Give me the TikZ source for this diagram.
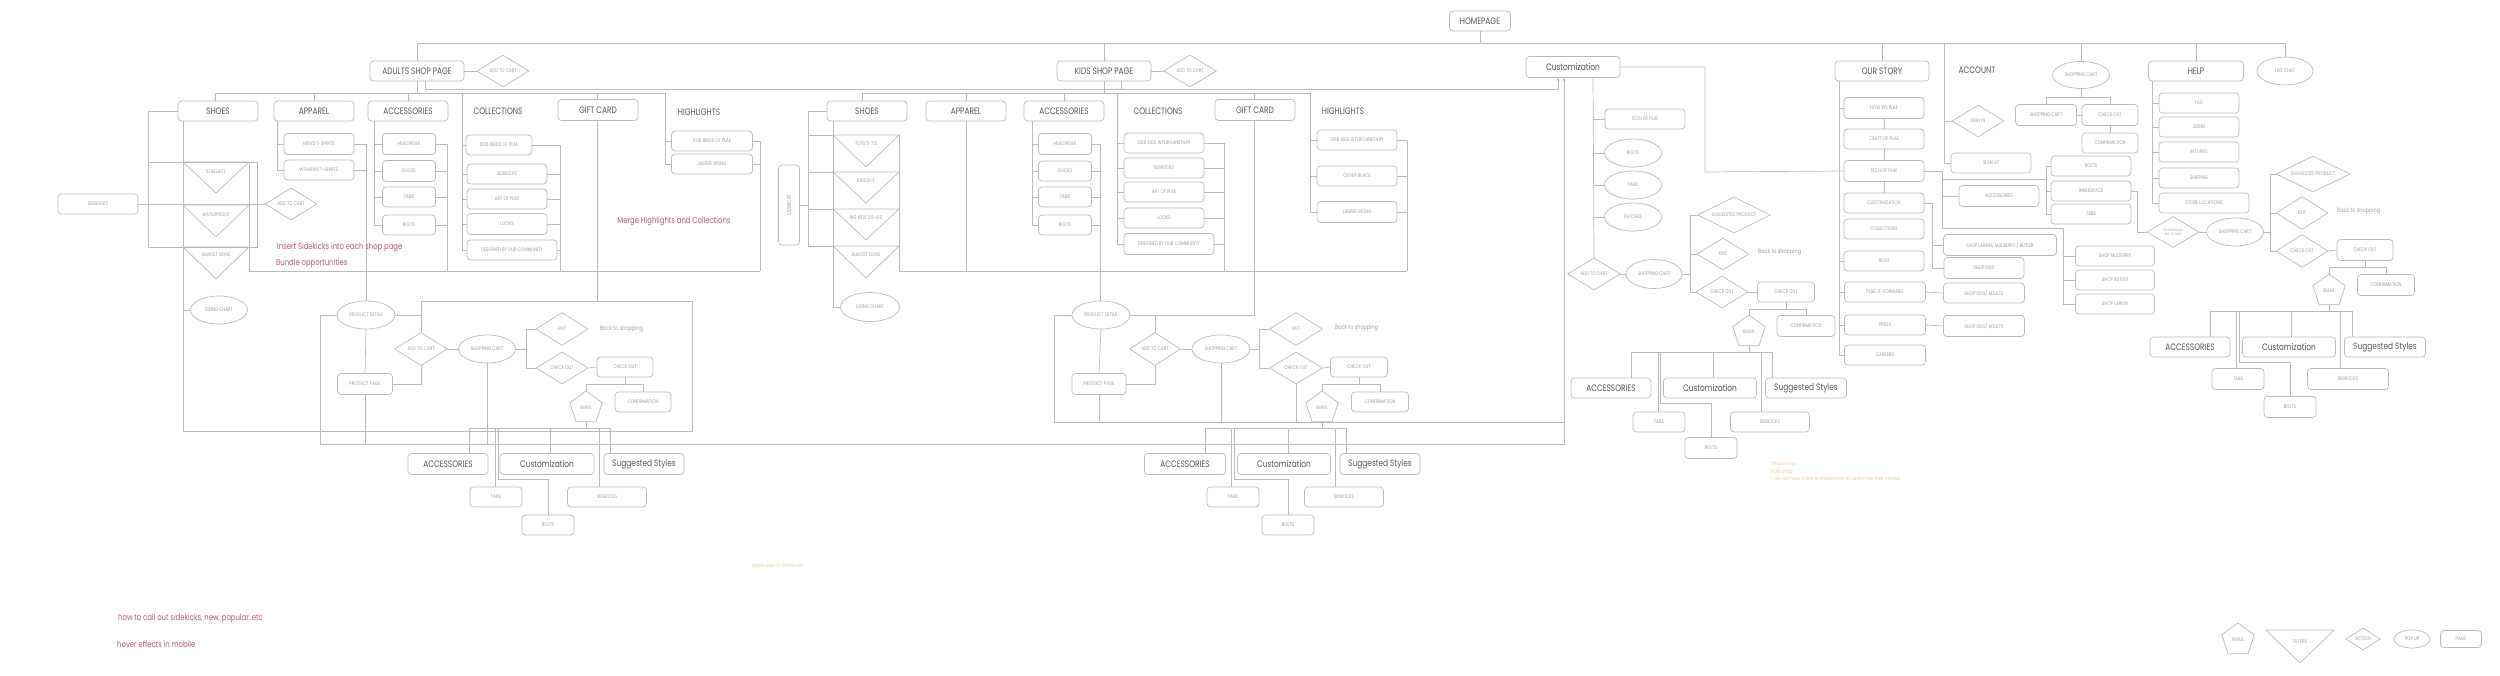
\documentclass[tikz,border=0pt]{standalone}
\usepackage{fontspec}
\setmainfont[FakeStretch=0.8]{Poppins}
\usetikzlibrary{shapes.geometric,arrows.meta}
\definecolor{lc}{HTML}{B9B9B9}
\definecolor{tc}{HTML}{9C9C9C}
\definecolor{dk}{HTML}{555555}
\definecolor{pk}{HTML}{B4587E}
\definecolor{yl}{HTML}{E3D39C}
\newcommand\fBig{\fontsize{9.3}{10}\selectfont}
\newcommand\fSm{\fontsize{5.2}{6}\selectfont}
\newcommand\fNote{\fontsize{8.6}{10}\selectfont}
\newcommand\fTiny{\fontsize{3.2}{3.8}\selectfont}
\newcommand\fYel{\fontsize{5.4}{6}\selectfont}
\newcommand\fBack{\fontsize{6.2}{7}\selectfont}
\begin{document}
\begin{tikzpicture}[x=1pt,y=-1pt,
  ln/.style={draw=lc,line width=0.7pt},
  arr/.style={-{Stealth[length=3pt,width=2.6pt]}},
  sz/.style 2 args={minimum width=#1pt,minimum height=#2pt},
  box/.style={draw=lc,line width=0.7pt,rounded corners=3.5pt,inner sep=0pt,font=\fSm,text=tc},
  big/.style={box,font=\fBig,text=dk},
  lbl/.style={inner sep=0pt,font=\fBig,text=dk},
  ell/.style={draw=lc,line width=0.7pt,ellipse,inner sep=0pt,font=\fSm,text=tc},
  dia/.style={draw=lc,line width=0.7pt,diamond,aspect=2,inner sep=0pt,font=\fSm,text=tc},
  pent/.style={draw=lc,line width=0.7pt,regular polygon,regular polygon sides=5,minimum size=34pt,inner sep=0pt,font=\fSm,text=tc},
  tl/.style={inner sep=0pt,font=\fSm,text=tc},
  bk/.style={inner sep=0pt,font=\fBack,text=tc,anchor=west},
  note/.style={inner sep=0pt,font=\fNote,text=pk,anchor=west},
  yel/.style={inner sep=0pt,font=\fYel,text=yl,anchor=west}]
\fill[white] (0,0) rectangle (2500,676);
\useasboundingbox (0,0) rectangle (2500,676);

% ---------------- top level ----------------
\node[big,sz={61}{20}] (home) at (1480,21) {HOMEPAGE};
\node[big,sz={94}{20}] (adult) at (417,71) {ADULTS SHOP PAGE};
\node[dia,sz={52}{32}] (aAdd) at (503,71) {ADD TO CART};
\node[big,sz={94}{20}] (kids) at (1104,71) {KIDS SHOP PAGE};
\node[dia,sz={53}{32}] (kAdd) at (1190,71) {ADD TO CART};
\node[big,sz={94}{21}] (cust) at (1573,67) {Customization};
\node[big,sz={94}{20}] (story) at (1882,71) {OUR STORY};
\node[lbl] (account) at (1977,70) {ACCOUNT};
\node[ell,sz={57}{27}] (topCart) at (2081,75) {SHOPPING CART};
\node[big,sz={95}{20}] (help) at (2196,71) {HELP};
\node[ell,sz={56}{28}] (chat) at (2285,71) {LIVE CHAT};

\coordinate (T) at (0,43);
\draw[ln] (adult.north) -- (adult.north |- T) -- (chat.north |- T) -- (chat.north);
\draw[ln] (home.south) -- (home.south |- T);
\draw[ln] (kids.north) -- (kids.north |- T);
\draw[ln] (story.north) -- (story.north |- T);
\draw[ln] (topCart.north) -- (topCart.north |- T);
\draw[ln] (help.north) -- (help.north |- T);
\draw[ln] (adult.east) -- (aAdd.west);
\draw[ln] (kids.east) -- (kAdd.west);
\draw[ln,arr] ([xshift=8pt]adult.south) |- (1558,89) -- (cust.south -| 1558,0);
\draw[ln] ([xshift=17pt]kids.south) -- ++(0,8);

% ---------------- adults shop ----------------
\node[big,sz={80}{20}] (aShoes) at (218,111) {SHOES};
\node[big,sz={80}{20}] (aApp) at (314,111) {APPAREL};
\node[big,sz={80}{20}] (aAcc) at (408,111) {ACCESSORIES};
\node[lbl] (aColl) at (498,111) {COLLECTIONS};
\node[big,sz={80}{21}] (aGift) at (598,110) {GIFT CARD};
\node[lbl] (aHigh) at (699,112) {HIGHLIGHTS};

\node[box,sz={70}{21}] (aMen) at (319,144) {MEN'S T-SHIRTS};
\node[box,sz={70}{20}] (aWomen) at (319,170) {WOMEN'S T-SHIRTS};
\node[box,sz={53}{21}] (aHead) at (409,144) {HEADWEAR};
\node[box,sz={53}{21}] (aSocks) at (409,171) {SOCKS};
\node[box,sz={53}{20}] (aTabs) at (409,197) {TABS};
\node[box,sz={53}{20}] (aBolts) at (409,225) {BOLTS};
\node[box,sz={66}{20}] (aC1) at (499,145) {SS18 BIRDS OF PLAE};
\node[box,sz={80}{20}] (aC2) at (507,174) {SIDEKICKS};
\node[box,sz={80}{20}] (aC3) at (507,199) {ART OF PLAE};
\node[box,sz={80}{21}] (aC4) at (507,224) {LOOKS};
\node[box,sz={90}{20}] (aC5) at (512,250) {DESIGNED BY OUR COMMUNITY};
\node[box,sz={81}{20}] (aH1) at (712,141) {SS18 BIRDS OF PLAE};
\node[box,sz={81}{20}] (aH2) at (712,164) {JASPER WONG};

\draw[ln] (adult.south) -- ++(0,12);
\draw[ln] (aShoes.north -| 215,0) -- (215,93) -- (665,93) |- (aH2.west);
\draw[ln] (aH1.west) -- (aH1.west -| 665,0);
\draw[ln] (aApp.north) -- (aApp.north |- 0,93);
\draw[ln] (aAcc.north) -- (aAcc.north |- 0,93);
\draw[ln] (aGift.north -| 597,0) -- (597,93);
\draw[ln] (aGift.south -| 597,0) -- (597,301);
% apparel
\draw[ln] (aApp.south -| 277,0) |- (aWomen.west);
\draw[ln] (aMen.west) -- (aMen.west -| 277,0);
\draw[ln] (aMen.east) -| (366,301);
\draw[ln] (aWomen.east) -- (aWomen.east -| 366,0);
% accessories
\draw[ln] (aAcc.south -| 374,0) |- (aBolts.west);
\foreach \n in {aHead,aSocks,aTabs} \draw[ln] (\n.west) -- (\n.west -| 374,0);
\draw[ln] (aHead.east) -| (447,271);
\foreach \n in {aSocks,aTabs,aBolts} \draw[ln] (\n.east) -- (\n.east -| 447,0);
% collections
\draw[ln] (462,93) |- (aC5.west);
\foreach \n in {aC1,aC2,aC3,aC4} \draw[ln] (\n.west) -- (\n.west -| 462,0);
\draw[ln] (aC1.east) -| (560,271);
\foreach \n in {aC2,aC3,aC4,aC5} \draw[ln] (\n.east) -- (\n.east -| 560,0);
% highlights
\draw[ln] (aH1.east) -| (760,271);
\draw[ln] (aH2.east) -- (aH2.east -| 760,0);
\draw[ln] (249,271) -- (760,271);
% shoes
\draw[ln] (aShoes.west) -| (148,247) -- (257,247) -- (257,162) -- (148,162);
\draw[ln] (aShoes.south -| 183,0) -- (183,431) -- (692,431) -- (692,301) -- (421,301) -- (421,332);
\draw[ln] (249,162) -- (249,271);
\draw[ln] (183,162) -- (249,162) -- (216,193) -- cycle;
\draw[ln] (183,205) -- (249,205) -- (216,237) -- cycle;
\draw[ln] (183,247) -- (249,247) -- (216,279) -- cycle;
\node[tl] (tA1) at (216,172) {STAELACE};
\node[tl] (tA2) at (216,215) {WATERPROOF};
\node[tl] (tA3) at (216,255) {ALMOST GONE};
\node[box,sz={80}{20}] (sidekicks) at (98,204) {SIDEKICKS};
\node[dia,sz={52}{32}] (aAddS) at (291,204) {ADD TO CART};
\draw[ln] (sidekicks.east) -- (aAddS.west);
\node[ell,sz={57}{28}] (aSizing) at (219,310) {SIZING CHART};
\draw[ln] (aSizing.west -| 183,0) -- (aSizing.west);

% adult purchase flow
\node[ell,sz={58}{28}] (aPD) at (366,315) {PRODUCT DETAIL};
\node[dia,sz={53}{33}] (aAddC) at (421,349) {ADD TO CART};
\node[box,sz={55}{21}] (aPP) at (365,384) {PRODUCT PAGE};
\node[ell,sz={57}{28}] (aCart) at (487,349) {SHOPPING CART};
\node[dia,sz={52}{33}] (aExit) at (562,329) {EXIT};
\node[bk] (aBack) at (600,329) {Back to shopping};
\node[dia,sz={52}{32}] (aChkD) at (562,368) {CHECK OUT};
\node[box,sz={56}{20}] (aChk) at (625,367) {CHECK OUT};
\node[box,sz={56}{20}] (aConf) at (643,402) {CONFIRMATION};
\node[pent] (aEmail) at (586,408) {EMAIL};
\draw[ln] (aPD.east) -- (aPD.east -| 421,0);
\draw[ln,arr] (aPD.west) -| (320,444) -- (1564,444) -- (cust.south -| 1564,0);
\draw[ln] (aPD.south) -- (aPP.north);
\draw[ln] (aAddC.south) |- (aPP.east);
\draw[ln] (aPP.south) -- (aPP.south |- 0,444);
\draw[ln] (aAddC.east) -- (aCart.west);
\draw[ln] (aCart.south) -- (aCart.south |- 0,444);
\draw[ln] (aCart.east) -- (526,349);
\draw[ln] (aExit.west) -| (526,368) -- (aChkD.west);
\draw[ln] (aChkD.east) -- (aChk.west);
\draw[ln] (aChk.south) -- (aChk.south |- 0,384);
\draw[ln] (aEmail.north) |- (aConf.north |- 0,384) -- (aConf.north);
\draw[ln] (aEmail.south) -- (aEmail.south |- 0,428);
\node[big,sz={80}{21}] (aB1) at (448,464) {ACCESSORIES};
\node[big,sz={94}{21}] (aB2) at (547,464) {Customization};
\node[big,sz={80}{21}] (aB3) at (644,464) {Suggested Styles};
\node[box,sz={52}{20}] (aB4) at (496,497) {TABS};
\node[box,sz={79}{20}] (aB5) at (607,497) {SIDEKICKS};
\node[box,sz={52}{20}] (aB6) at (548,525) {BOLTS};
\draw[ln] (469,428) -- (610,428);
\draw[ln] (469,428) -- (aB1.north -| 469,0);
\draw[ln] (550,428) -- (aB2.north -| 550,0);
\draw[ln] (610,428) -- (aB3.north -| 610,0);
\draw[ln] (495,428) -- (aB4.north -| 495,0);
\draw[ln] (498,428) -- (498,479) -| (aB6.north);
\draw[ln] (599,428) -- (aB5.north -| 599,0);

% ---------------- kids shop ----------------
\node[big,sz={80}{20}] (kShoes) at (867,111) {SHOES};
\node[big,sz={80}{20}] (kApp) at (966,111) {APPAREL};
\node[big,sz={80}{20}] (kAcc) at (1064,111) {ACCESSORIES};
\node[lbl] (kColl) at (1158,111) {COLLECTIONS};
\node[big,sz={80}{21}] (kGift) at (1255,110) {GIFT CARD};
\node[lbl] (kHigh) at (1343,111) {HIGHLIGHTS};
\node[box,sz={53}{21}] (kHead) at (1065,144) {HEADWEAR};
\node[box,sz={53}{20}] (kSocks) at (1065,171) {SOCKS};
\node[box,sz={53}{20}] (kTabs) at (1065,197) {TABS};
\node[box,sz={53}{20}] (kBolts) at (1065,225) {BOLTS};
\node[box,sz={80}{20}] (kC1) at (1164,143) {SS18 KIDS INTERPLANETARY};
\node[box,sz={80}{20}] (kC2) at (1164,168) {SIDEKICKS};
\node[box,sz={80}{20}] (kC3) at (1164,192) {ART OF PLAE};
\node[box,sz={80}{20}] (kC4) at (1164,218) {LOOKS};
\node[box,sz={90}{21}] (kC5) at (1169,244) {DESIGNED BY OUR COMMUNITY};
\node[box,sz={80}{20}] (kH1) at (1357,140) {SS18 KIDS INTERPLANETARY};
\node[box,sz={80}{20}] (kH2) at (1357,176) {OLIVER BLACK};
\node[box,sz={80}{21}] (kH3) at (1357,212) {JASPER WONG};

\draw[ln] (kids.south) -- ++(0,12);
\draw[ln] (kShoes.north -| 862,0) -- (862,93) -- (1310,93) |- (kH3.west);
\foreach \n in {kH1,kH2} \draw[ln] (\n.west) -- (\n.west -| 1310,0);
\draw[ln] (kApp.north) -- (kApp.north |- 0,93);
\draw[ln] (kApp.south) -- (kApp.south |- 0,271);
\draw[ln] (kAcc.north) -- (kAcc.north |- 0,93);
\draw[ln] (kGift.north -| 1254,0) -- (1254,93);
% accessories
\draw[ln] (kAcc.south -| 1032,0) |- (kBolts.west);
\foreach \n in {kHead,kSocks,kTabs} \draw[ln] (\n.west) -- (\n.west -| 1032,0);
\draw[ln] (kHead.east) -| (1100,301);
\foreach \n in {kSocks,kTabs,kBolts} \draw[ln] (\n.east) -- (\n.east -| 1100,0);
% collections
\draw[ln] (1117,93) |- (kC5.west);
\foreach \n in {kC1,kC2,kC3,kC4} \draw[ln] (\n.west) -- (\n.west -| 1117,0);
\draw[ln] (kC1.east) -| (1224,271);
\foreach \n in {kC2,kC3,kC4,kC5} \draw[ln] (\n.east) -- (\n.east -| 1224,0);
% highlights
\draw[ln] (kH1.east) -| (1407,271);
\foreach \n in {kH2,kH3} \draw[ln] (\n.east) -- (\n.east -| 1407,0);
\draw[ln] (899,271) -- (1407,271);
% shoes
\node[box,sz={21}{80}] (kSide) at (789,205) {\rotatebox{90}{SIDEKICKS}};
\draw[ln] (kShoes.west) -| (808,246) -- (833,246);
\foreach \y in {135,172,209} \draw[ln] (808,\y) -- (833,\y);
\draw[ln] (kSide.east) -- (kSide.east -| 808,0);
\draw[ln] (833,135) -- (899,135) -- (866,167) -- cycle;
\draw[ln] (833,172) -- (899,172) -- (866,203) -- cycle;
\draw[ln] (833,209) -- (899,209) -- (866,240) -- cycle;
\draw[ln] (833,246) -- (899,246) -- (866,278) -- cycle;
\node[tl] (tK1) at (866,144) {TOTS 5-7.5};
\node[tl] (tK2) at (866,181) {KIDS 8-3};
\node[tl] (tK3) at (866,218) {BIG KIDS 3.5-4.5};
\node[tl] (tK4) at (866,255) {ALMOST GONE};
\draw[ln] (899,135) -- (899,271);
\node[ell,sz={59}{29}] (kSizing) at (870,307) {SIZING CHART};
\draw[ln] (kShoes.south -| 833,0) |- (kSizing.west);

% kids purchase flow
\node[ell,sz={58}{28}] (kPD) at (1101,315) {PRODUCT DETAIL};
\node[box,sz={54}{21}] (kPP) at (1099,384) {PRODUCT PAGE};
\node[dia,sz={51}{33}] (kAddC) at (1155,349) {ADD TO CART};
\node[ell,sz={58}{28}] (kCart) at (1221,349) {SHOPPING CART};
\node[dia,sz={53}{33}] (kExit) at (1296,329) {EXIT};
\node[bk] (kBack) at (1335,328) {Back to shopping};
\node[dia,sz={53}{32}] (kChkD) at (1296,368) {CHECK OUT};
\node[box,sz={57}{20}] (kChk) at (1359,367) {CHECK OUT};
\node[box,sz={57}{20}] (kConf) at (1380,402) {CONFIRMATION};
\node[pent] (kEmail) at (1322,408) {EMAIL};
\draw[ln] (kGift.south -| 1254,0) |- (kPD.east);
\draw[ln] (kAddC.north) -- (kAddC.north |- kPD.east);
\draw[ln] (kPD.west) -| (1054,422) -- (1564,422);
\draw[ln] (kPD.south) -- (kPP.north);
\draw[ln] (kPP.south) -- (kPP.south |- 0,422);
\draw[ln] (kAddC.south) |- (kPP.east);
\draw[ln] (kAddC.east) -- (kCart.west);
\draw[ln] (kCart.south) -- (kCart.south |- 0,422);
\draw[ln] (kCart.east) -- (1259,349);
\draw[ln] (kExit.west) -| (1259,368) -- (kChkD.west);
\draw[ln] (kChkD.south) -- (kChkD.south |- 0,422);
\draw[ln] (kChkD.east) -- (kChk.west);
\draw[ln] (kChk.south) -- (kChk.south |- 0,384);
\draw[ln] (kEmail.north) |- (kConf.north |- 0,384) -- (kConf.north);
\draw[ln] (kEmail.south) -- (kEmail.south |- 0,428);
\node[big,sz={81}{21}] (kB1) at (1185,464) {ACCESSORIES};
\node[big,sz={93}{21}] (kB2) at (1284,464) {Customization};
\node[big,sz={80}{21}] (kB3) at (1380,464) {Suggested Styles};
\node[box,sz={52}{20}] (kB4) at (1233,497) {TABS};
\node[box,sz={79}{20}] (kB5) at (1344,497) {SIDEKICKS};
\node[box,sz={52}{20}] (kB6) at (1288,525) {BOLTS};
\draw[ln] (1205,428) -- (1346,428);
\draw[ln] (1205,428) -- (kB1.north -| 1205,0);
\draw[ln] (1288,428) -- (kB2.north -| 1288,0);
\draw[ln] (1346,428) -- (kB3.north -| 1346,0);
\draw[ln] (1231,428) -- (kB4.north -| 1231,0);
\draw[ln] (1234,428) -- (1234,479) -| (kB6.north);
\draw[ln] (1335,428) -- (kB5.north -| 1335,0);

% ---------------- customization ----------------
\node[box,sz={80}{20}] (cTech) at (1645,119) {TECH OF PLAE};
\node[ell,sz={57}{28}] (cBolts) at (1633,153) {BOLTS};
\node[ell,sz={57}{28}] (cTabs) at (1633,185) {TABS};
\node[ell,sz={57}{28}] (cPatch) at (1633,217) {PATCHES};
\node[dia,sz={53}{32}] (cAdd) at (1594,274) {ADD TO CART};
\node[ell,sz={56}{29}] (cCart) at (1654,274) {SHOPPING CART};
\node[dia,sz={73}{36}] (cSug) at (1734,215) {SUGGESTED PRODUCT};
\node[dia,sz={52}{32}] (cExit) at (1723,254) {EXIT};
\node[bk] (cBack) at (1758,252) {Back to shopping};
\node[dia,sz={52}{32}] (cChkD) at (1722,292) {CHECK OUT};
\node[box,sz={57}{20}] (cChk) at (1786,292) {CHECK OUT};
\node[pent] (cEmail) at (1749,332) {EMAIL};
\node[box,sz={58}{21}] (cConf) at (1806,326) {CONFIRMATION};
\draw[ln] (cust.south -| 1593,0) -- (cAdd.north);
\foreach \n in {cTech,cBolts,cTabs,cPatch} \draw[ln] (\n.west -| 1593,0) -- (\n.west);
\draw[ln] (cAdd.east) -- (cCart.west);
\draw[ln] (cCart.east) -- (1690,274);
\draw[ln] (cSug.west) -| (1690,292) -- (cChkD.west);
\draw[ln] (cExit.west) -- (cExit.west -| 1690,0);
\draw[ln] (cChkD.east) -- (cChk.west);
\draw[ln] (cChk.south) -- (cChk.south |- 0,309);
\draw[ln] (cEmail.north) |- (cConf.north |- 0,309) -- (cConf.north);
\draw[ln] (cEmail.south) -- (cEmail.south |- 0,352);
\node[big,sz={80}{20}] (cB1) at (1611,388) {ACCESSORIES};
\node[big,sz={93}{20}] (cB2) at (1710,388) {Customization};
\node[big,sz={81}{20}] (cB3) at (1806,388) {Suggested Styles};
\node[box,sz={52}{20}] (cB4) at (1659,422) {TABS};
\node[box,sz={79}{20}] (cB5) at (1770,422) {SIDEKICKS};
\node[box,sz={52}{21}] (cB6) at (1711,448) {BOLTS};
\draw[ln] (1631,352) -- (1772,352);
\draw[ln] (1631,352) -- (cB1.north -| 1631,0);
\draw[ln] (1713,352) -- (cB2.north -| 1713,0);
\draw[ln] (1772,352) -- (cB3.north -| 1772,0);
\draw[ln] (1658,352) -- (cB4.north -| 1658,0);
\draw[ln] (1660,352) -- (1660,403) -| (cB6.north);
\draw[ln] (1761,352) -- (cB5.north -| 1761,0);

% ---------------- our story ----------------
\node[box,sz={80}{21}] (sHow) at (1884,108) {HOW WE PLAE};
\node[box,sz={80}{20}] (sCraft) at (1884,139) {CRAFT OF PLAE};
\node[box,sz={80}{21}] (sTech) at (1884,171) {TECH OF PLAE};
\node[box,sz={80}{20}] (sCust) at (1884,203) {CUSTOMIZATION};
\node[box,sz={80}{20}] (sColl) at (1884,229) {COLLECTIONS};
\node[box,sz={80}{20}] (sBlog) at (1884,261) {BLOG};
\node[box,sz={81}{20}] (sPlae) at (1885,292) {PLAE-IT-FORWARD};
\node[box,sz={81}{20}] (sPress) at (1885,325) {PRESS};
\node[box,sz={81}{20}] (sCareers) at (1885,355) {CAREERS};
\draw[ln] (story.south -| 1839,0) |- (sCareers.west);
\foreach \n in {sHow,sBlog,sPlae,sPress} \draw[ln] (\n.west -| 1839,0) -- (\n.west);
\draw[ln] (sHow.south) -- (sCraft.north);
\draw[ln] (sCraft.south) -- (sTech.north);
\draw[ln] (sTech.south) -- (sCust.north);
\draw[ln] (cust.east) -| (1705,172) -- (sTech.west);
\node[box,sz={113}{21}] (sLark) at (2000,245) {SHOP LARKIN/ MULBERRY / BUTLER};
\node[box,sz={80}{21}] (sKids) at (1984,268) {SHOP KIDS};
\node[box,sz={81}{20}] (sKA1) at (1984,293) {SHOP KIDS/ ADULTS};
\node[box,sz={81}{21}] (sKA2) at (1984,326) {SHOP KIDS/ ADULTS};
\draw[ln] (sCust.east) -| (1932,268) -- (sKids.west);
\draw[ln] (sLark.west -| 1932,0) -- (sLark.west);
\draw[ln] (sPlae.east) -- (sKA1.west);
\draw[ln] (sPress.east) -- (sKA2.west);
\node[box,sz={80}{21}] (sAcc) at (1999,196) {ACCESSORIES};
\node[box,sz={80}{20}] (oBolts) at (2091,166) {BOLTS};
\node[box,sz={80}{20}] (oInner) at (2091,191) {INNERSPACE};
\node[box,sz={80}{20}] (oTabs) at (2091,214) {TABS};
\node[box,sz={79}{20}] (sMul) at (2115,256) {SHOP MULBERRY};
\node[box,sz={79}{20}] (sBut) at (2115,280) {SHOP BUTLER};
\node[box,sz={79}{20}] (sLar) at (2115,304) {SHOP LARKIN};
\draw[ln] (sTech.east) -| (1942,228) -- (2063,228) |- (sLar.west);
\foreach \n in {sMul,sBut} \draw[ln] (\n.west -| 2063,0) -- (\n.west);
\draw[ln] (1942,179) -- (2046,179);
\draw[ln] (sAcc.west -| 1942,0) -- (sAcc.west);
\draw[ln] (oBolts.west) -| (2046,214) -- (oTabs.west);
\draw[ln] (oInner.west) -- (oInner.west -| 2046,0);
\node[dia,sz={52}{31},align=center,font=\fTiny] (fDia) at (2173,232) {FILE DOWNLOAD\\ADD TO CART};
\draw[ln] (oInner.east) -| (2137,232) -- (fDia.west);

% ---------------- account / cart ----------------
\node[dia,sz={52}{32}] (signIn) at (1978,121) {SIGN IN};
\node[box,sz={80}{20}] (signUp) at (1991,163) {SIGN UP};
\coordinate (acc) at (1944,43);
\draw[ln] (acc) |- (signUp.west);
\draw[ln] (signIn.west) -- (signIn.west -| acc);
\node[box,sz={61}{21}] (tCart) at (2046,115) {SHOPPING CART};
\node[box,sz={56}{21}] (tChk) at (2110,115) {CHECK OUT};
\node[box,sz={56}{20}] (tConf) at (2110,143) {CONFIRMATION};
\draw[ln] (topCart.south) -- (topCart.south |- 0,97);
\draw[ln] (tCart.north) |- (tChk.north |- 0,97) -- (tChk.north);
\draw[ln] (tCart.east) -- (tChk.west);
\draw[ln] (tChk.south) -- (tConf.north);

% ---------------- help ----------------
\node[box,sz={80}{20}] (hFaq) at (2199,103) {FAQ};
\node[box,sz={80}{20}] (hSiz) at (2199,127) {SIZING};
\node[box,sz={80}{20}] (hRet) at (2199,152) {RETURNS};
\node[box,sz={80}{20}] (hShip) at (2199,178) {SHIPPING};
\node[box,sz={90}{20}] (hStore) at (2204,203) {STORE LOCATIONS};
\draw[ln] (help.south -| 2152,0) |- (hStore.west);
\foreach \n in {hFaq,hSiz,hRet,hShip} \draw[ln] (\n.west -| 2152,0) -- (\n.west);

\node[ell,sz={57}{28}] (hCart) at (2235,232) {SHOPPING CART};
\node[dia,sz={74}{36}] (hSug) at (2313,174) {SUGGESTED PRODUCT};
\node[dia,sz={52}{33}] (hExit) at (2302,213) {EXIT};
\node[bk] (hBack) at (2337,211) {Back to shopping};
\node[dia,sz={52}{33}] (hChkD) at (2302,251) {CHECK OUT};
\node[box,sz={56}{21}] (hChk) at (2365,250) {CHECK OUT};
\node[pent] (hEmail) at (2329,291) {EMAIL};
\node[box,sz={57}{21}] (hConf) at (2386,285) {CONFIRMATION};
\draw[ln] (fDia.east) -- (hCart.west);
\draw[ln] (hCart.east) -- (2270,232);
\draw[ln] (hSug.west) -| (2270,251) -- (hChkD.west);
\draw[ln] (hExit.west) -- (hExit.west -| 2270,0);
\draw[ln] (hChkD.east) -- (hChk.west);
\draw[ln] (hChk.south) -- (hChk.south |- 0,267);
\draw[ln] (hEmail.north) |- (hConf.north |- 0,267) -- (hConf.north);
\draw[ln] (hEmail.south) -- (hEmail.south |- 0,311);
\node[big,sz={80}{20}] (hB1) at (2190,347) {ACCESSORIES};
\node[big,sz={93}{20}] (hB2) at (2289,347) {Customization};
\node[big,sz={81}{20}] (hB3) at (2385,347) {Suggested Styles};
\node[box,sz={52}{21}] (hB4) at (2238,379) {TABS};
\node[box,sz={81}{21}] (hB5) at (2348,379) {SIDEKICKS};
\node[box,sz={52}{21}] (hB6) at (2290,407) {BOLTS};
\draw[ln] (2210,311) -- (2352,311);
\draw[ln] (2210,311) -- (hB1.north -| 2210,0);
\draw[ln] (2291,311) -- (hB2.north -| 2291,0);
\draw[ln] (2352,311) -- (hB3.north -| 2352,0);
\draw[ln] (2236,311) -- (hB4.north -| 2236,0);
\draw[ln] (2239,311) -- (2239,362) -| (hB6.north);
\draw[ln] (2340,311) -- (hB5.north -| 2340,0);

% ---------------- notes ----------------
\node[note] (n1) at (277,247) {Insert Sidekicks into each shop page};
\node[note] (n2) at (276,263) {Bundle opportunities};
\node[note,anchor=center] (n3) at (674,221) {Merge Highlights and Collections};
\node[note] (n4) at (118,618) {how to call out sidekicks, new, popular..etc};
\node[note] (n5) at (117,644) {hover effects in mobile};
\node[yel] (y1) at (752,566) {apple pay on check out};
\node[yel] (y2) at (1771,464) {Shapeways};
\node[yel] (y3) at (1771,472) {PLAE shop};
\node[yel] (y4) at (1771,479) {- we will have a link to shapeways to customize their insoles};

% ---------------- legend ----------------
\node[pent] (lEmail) at (2238,640) {EMAIL};
\draw[ln] (2266,630) -- (2334,630) -- (2300,663) -- cycle;
\node[tl] (lFilt) at (2300,642) {FILTERS};
\node[dia,sz={35}{22},aspect=1.6] (lAct) at (2363,639) {ACTION};
\node[ell,sz={36}{18}] (lPop) at (2412,639) {POP UP};
\node[box,sz={41}{17}] (lPage) at (2461,639) {PAGE};
\end{tikzpicture}
\end{document}
